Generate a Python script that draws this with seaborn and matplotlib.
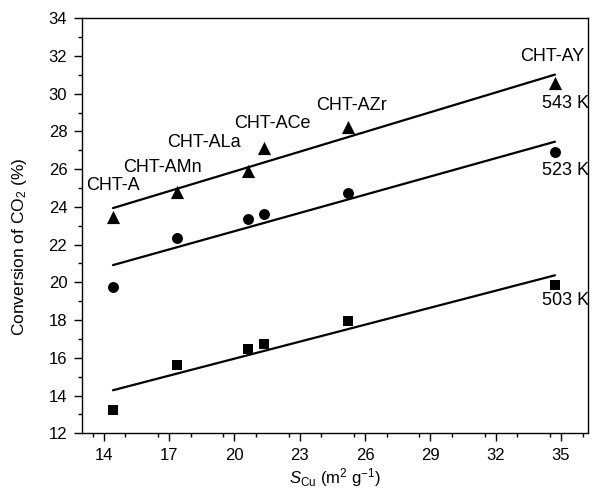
import matplotlib
matplotlib.use("Agg")
import matplotlib.pyplot as plt
from matplotlib.ticker import MultipleLocator
import seaborn as sns
import pandas as pd

samples = ["CHT-A", "CHT-AMn", "CHT-ALa", "CHT-ACe", "CHT-AZr", "CHT-AY"]
s_cu = [14.43, 17.39, 20.65, 21.37, 25.24, 34.72]
conv_543 = [23.48, 24.77, 25.92, 27.12, 28.25, 30.55]
conv_523 = [19.77, 22.33, 23.34, 23.62, 24.72, 26.93]
conv_503 = [13.25, 15.60, 16.45, 16.75, 17.95, 19.86]
temps = ["543 K", "523 K", "503 K"]

df = pd.DataFrame({"x": s_cu, "t543": conv_543, "t523": conv_523, "t503": conv_503})

sns.set_theme(style="ticks")
plt.rcParams["font.family"] = ["Liberation Sans", "DejaVu Sans"]
plt.rcParams["mathtext.fontset"] = "custom"
plt.rcParams["mathtext.rm"] = "Liberation Sans"
plt.rcParams["mathtext.it"] = "Liberation Sans:italic"
plt.rcParams["text.color"] = "black"
plt.rcParams["axes.labelcolor"] = "black"

fig = plt.figure(figsize=(5.93, 4.94), dpi=100)
ax = fig.add_axes([0.138, 0.123, 0.854, 0.840])

series = [("t543", "^", 90), ("t523", "o", 62), ("t503", "s", 42)]
for col, mk, sz in series:
    sns.regplot(data=df, x="x", y=col, ax=ax, ci=None, marker=mk, color="black",
                scatter_kws={"s": sz, "linewidths": 0, "alpha": 1, "zorder": 3},
                line_kws={"lw": 1.6, "zorder": 2})

ax.set_xlim(13.0, 36.25)
ax.set_ylim(12, 34)
ax.set_xticks([14, 17, 20, 23, 26, 29, 32, 35])
ax.xaxis.set_minor_locator(MultipleLocator(1.5))
ax.yaxis.set_major_locator(MultipleLocator(2))
ax.yaxis.set_minor_locator(MultipleLocator(1))
ax.tick_params(axis="both", which="major", direction="out", length=5.5, width=1,
               labelsize=12, color="black", labelcolor="black", pad=5)
ax.tick_params(axis="both", which="minor", direction="out", length=3, width=1, color="black")
for sp in ax.spines.values():
    sp.set_visible(True)
    sp.set_color("black")
    sp.set_linewidth(1)

ax.set_xlabel(r"$S_{\mathrm{Cu}}$ (m$^2$ g$^{-1}$)", fontsize=12, color="black")
ax.xaxis.set_label_coords(0.5, -0.08)
ax.set_ylabel(r"Conversion of CO$_2$ (%)", fontsize=12.5, color="black")
ax.yaxis.set_label_coords(-0.105, 0.45)

label_pos = [(13.2, 25.15, "left"), (16.7, 26.1, "center"), (18.6, 27.4, "center"),
             (21.75, 28.4, "center"), (25.4, 29.4, "center"), (34.6, 31.95, "center")]
for name, (lx, ly, ha) in zip(samples, label_pos):
    ax.text(lx, ly, name, fontsize=13, ha=ha, va="center", color="black")

temp_pos = [(35.2, 29.5), (35.2, 25.95), (35.2, 19.05)]
for t, (tx, ty) in zip(temps, temp_pos):
    ax.text(tx, ty, t, fontsize=13, ha="center", va="center", color="black")

fig.savefig("out.png", dpi=100)
